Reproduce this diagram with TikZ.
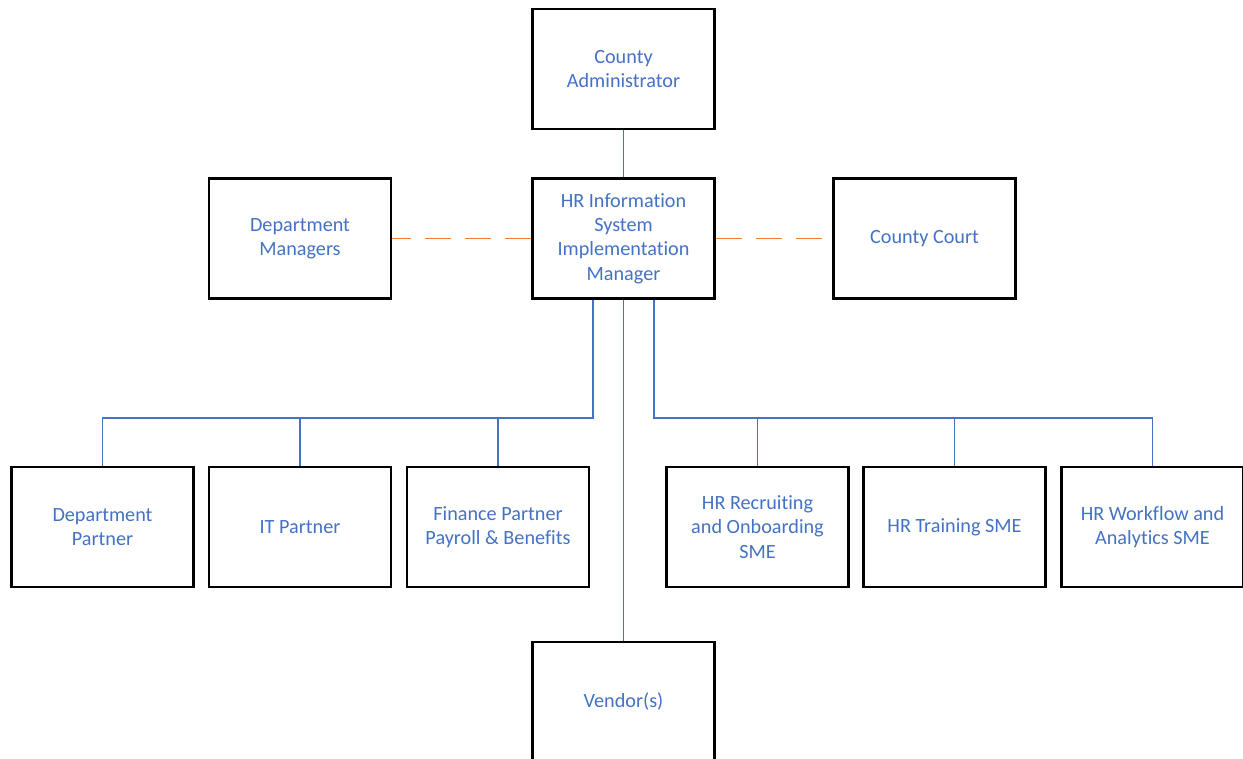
\documentclass[tikz,border=0pt]{standalone}
\usepackage{fontspec}
\setmainfont{Carlito}[Ligatures=NoCommon]
\usetikzlibrary{positioning}
\definecolor{orgtext}{HTML}{4472C4}
\definecolor{orgline}{HTML}{4472C4}
\definecolor{orgdash}{HTML}{ED7D31}

\begin{document}
\begin{tikzpicture}[x=0.02cm, y=-0.02cm,
  orgbox/.style={draw, line width=1.6pt, fill=white, rectangle, minimum width=3.64cm, minimum height=2.4cm, align=center, text=orgtext, font=\fontsize{11.5pt}{13.8pt}\selectfont},
  link/.style={draw=orgline, line width=1.1pt},
  dashlink/.style={draw=orgdash, line width=1.1pt, dash pattern=on 0.52cm off 0.28cm}]%
\useasboundingbox (0,0) rectangle (1243,759);%
% top
\node[orgbox] (admin) at (623.5, 69) {County\\Administrator};%
\node[orgbox] (mgr) at (623.5, 238.5) {HR Information\\System\\Implementation\\Manager};%
\node[orgbox] (deptmgr) at (300, 238.5) {Department\\Managers};%
\node[orgbox] (court) at (924.5, 238.5) {County Court};%
% partners
\node[orgbox] (deptpart) at (102.5, 527) {Department\\Partner};%
\node[orgbox] (itpart) at (300, 527) {IT Partner};%
\node[orgbox] (finpart) at (498, 527) {Finance Partner\\Payroll \& Benefits};%
\node[orgbox] (recruit) at (757.5, 527) {HR Recruiting\\and Onboarding\\SME};%
\node[orgbox] (training) at (954.5, 527) {HR Training SME};%
\node[orgbox] (workflow) at (1152.5, 527) {HR Workflow and\\Analytics SME};%
\node[orgbox] (vendor) at (623.5, 702) {Vendor(s)};%
% connectors
\coordinate (bus) at (0, 418);%
\draw[link] (admin) -- (mgr);%
\draw[dashlink] (mgr.west) -- (deptmgr.east);%
\draw[dashlink] (mgr.east) -- (court.west);%
\draw[link] (mgr) -- (vendor);%
\draw[link] ([xshift=-0.61cm]mgr.south) |- (deptpart.north |- bus) -- (deptpart.north);%
\draw[link] (itpart.north |- bus) -- (itpart.north);%
\draw[link] (finpart.north |- bus) -- (finpart.north);%
\draw[link] ([xshift=0.61cm]mgr.south) |- (workflow.north |- bus) -- (workflow.north);%
\draw[link] (recruit.north |- bus) -- (recruit.north);%
\draw[link] (training.north |- bus) -- (training.north);%
\end{tikzpicture}
\end{document}
